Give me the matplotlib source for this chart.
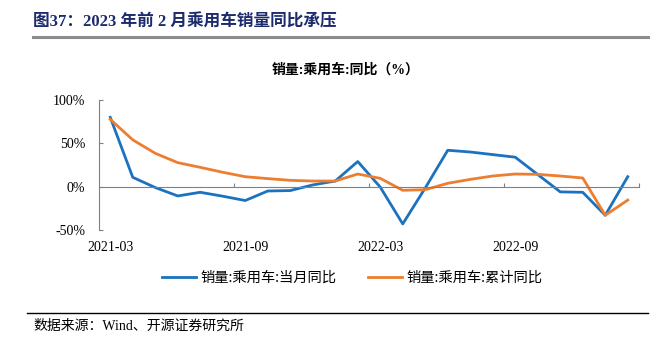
import matplotlib
matplotlib.use("Agg")
import matplotlib.pyplot as plt
from matplotlib.lines import Line2D

plt.rcParams['font.family'] = ['Liberation Serif', 'Noto Sans CJK SC']

months = ["2021-03", "2021-04", "2021-05", "2021-06", "2021-07", "2021-08",
          "2021-09", "2021-10", "2021-11", "2021-12", "2022-01", "2022-02",
          "2022-03", "2022-04", "2022-05", "2022-06", "2022-07", "2022-08",
          "2022-09", "2022-10", "2022-11", "2022-12", "2023-01", "2023-02"]
monthly_yoy = [80.0, 10.8, -1.0, -10.7, -6.5, -11.0, -16.0, -5.0, -4.5, 2.0, 6.5, 29.0,
               -0.5, -43.0, -1.5, 42.0, 40.0, 37.0, 34.0, 14.0, -6.0, -6.5, -33.0, 11.5]
cumulative_yoy = [77.7, 54.0, 38.5, 27.7, 22.3, 16.6, 11.5, 9.3, 7.3, 6.5, 6.5, 14.6,
                  9.6, -4.2, -3.5, 3.9, 8.4, 12.3, 14.6, 14.2, 12.3, 10.0, -33.0, -15.5]
label_months = ["2021-03", "2021-09", "2022-03", "2022-09"]
y_ticks = [-50, 0, 50, 100]
y_labels = ["-50%", "0%", "50%", "100%"]

blue = "#1B72BE"
orange = "#ED7D31"

fig = plt.figure(figsize=(6.72, 3.42), dpi=100)

# Report header
fig.text(33 / 672, 1 - 22 / 342, "图37：2023 年前 2 月乘用车销量同比承压",
         fontsize=12, fontweight='bold', color="#1C2A6E", va='center', ha='left')
fig.add_artist(Line2D([33 / 672, 648 / 672], [1 - 37 / 342, 1 - 37 / 342],
                      color="#8C8C8C", lw=2.2))

ax = fig.add_axes([99 / 672, 1 - 230 / 342, 540 / 672, 130 / 342])
x = list(range(len(months)))
ax.plot(x, monthly_yoy, color=blue, lw=2.0, label="销量:乘用车:当月同比")
ax.plot(x, cumulative_yoy, color=orange, lw=2.0, label="销量:乘用车:累计同比")

ax.set_xlim(-0.5, len(months) - 0.5)
ax.set_ylim(-50, 100)
ax.set_yticks(y_ticks)
ax.set_yticklabels(y_labels, fontsize=10)
ax.tick_params(axis='y', direction='in', length=3, color="#808080", pad=10)

for side in ('top', 'right'):
    ax.spines[side].set_visible(False)
ax.spines['left'].set_color("#808080")
ax.spines['bottom'].set_position(('data', 0))
ax.spines['bottom'].set_color("#808080")
boundaries = [i - 0.5 for i in range(6, len(months) + 1, 6)]
ax.set_xticks(boundaries)
ax.tick_params(axis='x', direction='in', length=3, color="#808080", labelbottom=False)

sec = ax.secondary_xaxis(0)
sec.set_xticks([months.index(m) for m in label_months])
sec.set_xticklabels(label_months, fontsize=10)
sec.tick_params(length=0, pad=8)
sec.spines['bottom'].set_visible(False)

fig.text(346 / 672, 1 - 70 / 342, "销量:乘用车:同比（%）", fontsize=10,
         fontweight='bold', ha='center', va='center')

fig.legend(loc='center', bbox_to_anchor=(352 / 672, 1 - 278 / 342), ncol=2,
           frameon=False, handlelength=2.4, columnspacing=2.2,
           handletextpad=0.3, prop={'family': ['Noto Sans CJK SC'], 'size': 10.3})

fig.add_artist(Line2D([27 / 672, 648 / 672], [1 - 313 / 342, 1 - 313 / 342],
                      color="black", lw=1.0))
fig.text(33 / 672, 1 - 326 / 342, "数据来源：Wind、开源证券研究所", fontsize=10,
         ha='left', va='center')

fig.savefig("out.png", dpi=100)
